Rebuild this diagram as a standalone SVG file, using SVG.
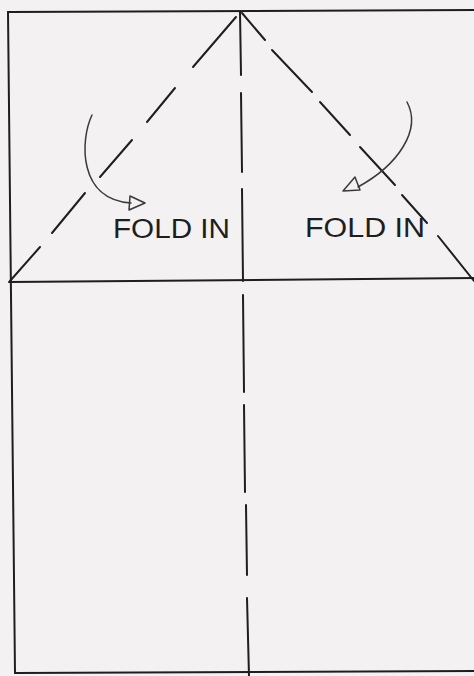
<svg xmlns="http://www.w3.org/2000/svg" width="474" height="676" viewBox="0 0 474 676">
<style>
.ln{stroke:#1e1e1e;stroke-width:2;fill:none;stroke-linecap:round}
.ar{stroke:#3a3a3a;stroke-width:1.5;fill:none;stroke-linecap:round;stroke-linejoin:round}
.lbl{font-family:"Liberation Sans",Arial,sans-serif;font-size:27px;fill:#1e1e1e}
</style>
<rect x="0" y="0" width="474" height="676" fill="#f3f1f1"/>
<g id="paper">
<path class="ln" d="M8,12 L474,10"/>
<path class="ln" d="M8,12 L15,673"/>
<path class="ln" d="M15,673 L474,671"/>
<path class="ln" d="M9,282 L474,278"/>
</g>
<g id="folds">
<g id="left-diagonal">
<line class="ln" x1="236" y1="17" x2="193" y2="67"/>
<line class="ln" x1="175" y1="88" x2="147" y2="122"/>
<line class="ln" x1="132" y1="140" x2="100" y2="177"/>
<line class="ln" x1="85" y1="193" x2="52" y2="233"/>
<line class="ln" x1="40" y1="247" x2="10" y2="281"/>
</g>
<g id="right-diagonal">
<line class="ln" x1="242" y1="13" x2="265" y2="40"/>
<line class="ln" x1="272" y1="50" x2="312" y2="92"/>
<line class="ln" x1="320" y1="102" x2="350" y2="135"/>
<line class="ln" x1="360" y1="147" x2="395" y2="185"/>
<line class="ln" x1="402" y1="195" x2="427" y2="223"/>
<line class="ln" x1="438" y1="236" x2="474" y2="281"/>
</g>
<g id="center-line">
<line class="ln" x1="240" y1="12" x2="241" y2="75"/>
<line class="ln" x1="241" y1="93" x2="242" y2="172"/>
<line class="ln" x1="242" y1="189" x2="243" y2="281"/>
<line class="ln" x1="243" y1="295" x2="244" y2="392"/>
<line class="ln" x1="244" y1="405" x2="245" y2="492"/>
<line class="ln" x1="246" y1="505" x2="247" y2="575"/>
<line class="ln" x1="247" y1="598" x2="249" y2="676"/>
</g>
</g>
<g id="connectors">
<path class="ar" d="M92,115 C80,140 78,200 131,203"/>
<path class="ar" d="M130,196 L145,203 L129,210 Z"/>
<path class="ar" d="M407,102 C422,130 398,165 358,187"/>
<path class="ar" d="M355,177 L343,191 L360,190 Z"/>
</g>
<g id="label-left">
<text class="lbl" x="113" y="238" textLength="117" lengthAdjust="spacingAndGlyphs">FOLD IN</text>
</g>
<g id="label-right">
<text class="lbl" x="305" y="237" textLength="120" lengthAdjust="spacingAndGlyphs">FOLD IN</text>
</g>
</svg>
